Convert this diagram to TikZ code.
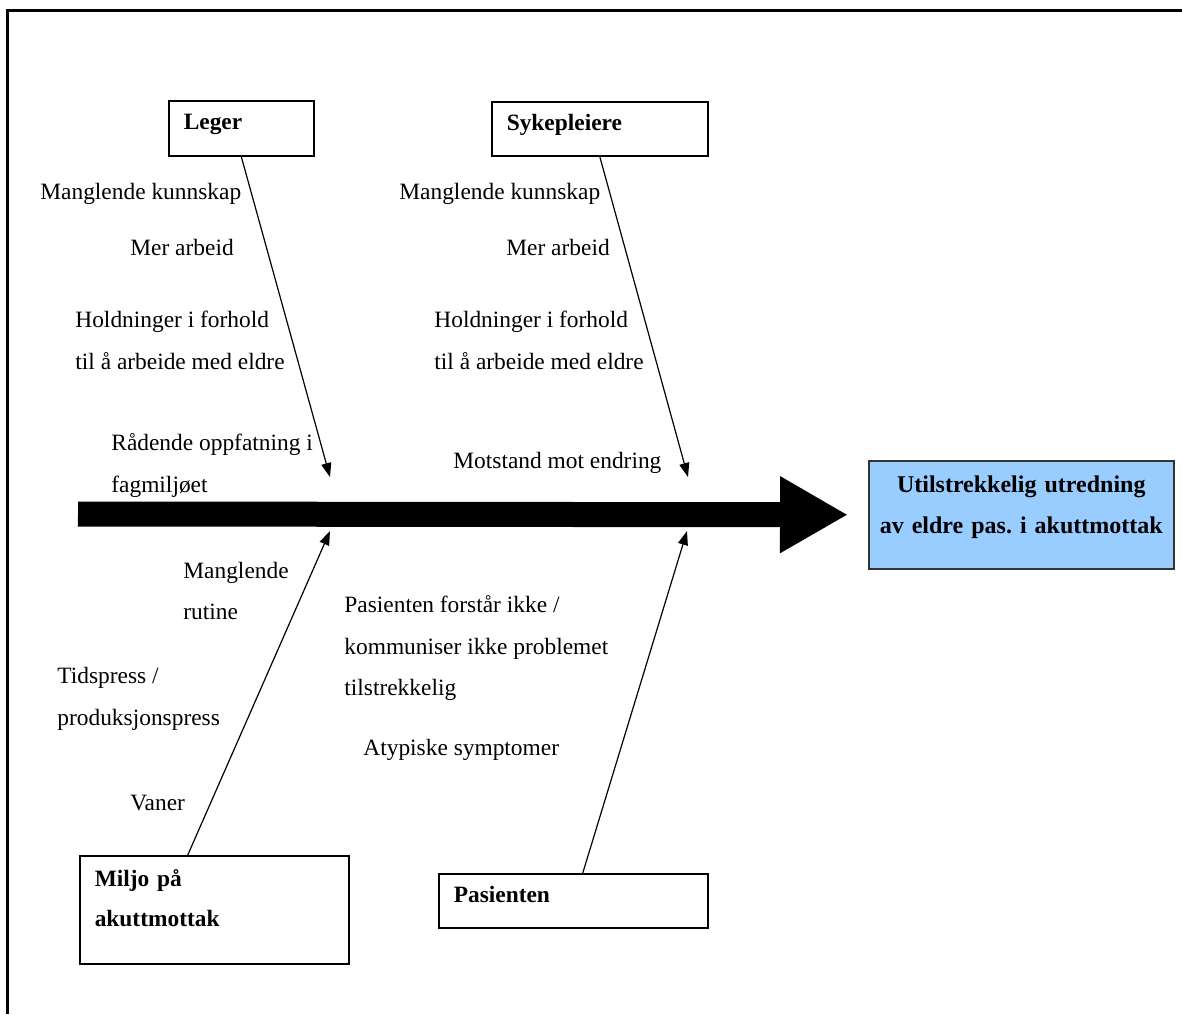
\documentclass[tikz,border=0pt]{standalone}
\usepackage{fontspec}
\setmainfont{Liberation Serif}
\usetikzlibrary{arrows.meta}
\definecolor{effektblue}{HTML}{99CCFF}

\begin{document}
\begin{tikzpicture}[x=0.5pt,y=-0.5pt,
    every node/.style={font=\fontsize{11.7}{20.75}\selectfont},
    cause/.style={anchor=west,inner sep=0pt,align=left},
    catbox/.style={draw,line width=0.75pt,anchor=north west,align=left,inner xsep=7.5pt,
        font=\fontsize{11.7}{20.25}\selectfont\bfseries},
    bone/.style={line width=0.6pt,-{Triangle[length=7pt,width=5pt]}}]
\useasboundingbox (0,0) rectangle (1182,1014);
% frame
\draw [line width=1.6pt] (7.5,1014) -- (7.5,10.5) -- (1182,10.5);

% effect and spine
\node [draw=black!80,line width=0.75pt,fill=effektblue,anchor=north west,align=center,
    minimum width=152.5pt,minimum height=54pt,inner xsep=1pt,text width=150pt,text depth=31pt,
    font=\fontsize{12}{20.5}\selectfont\bfseries\frenchspacing] (effekt) at (868,460)
    {Utilstrekkelig utredning\\av eldre pas. i akuttmottak};
\coordinate (tail) at (78,514);
\draw [line width=12.5pt,-{Triangle[length=34pt,width=36pt]}] (tail) -- ([xshift=-10pt]effekt.west);

% categories
\node [catbox,minimum width=72.5pt,minimum height=27.5pt,text width=57.5pt,text depth=6pt] (leger) at (168,100) {Leger};
\node [catbox,minimum width=108pt,minimum height=27pt,text width=93pt,text depth=6pt] (syk) at (491,101) {Sykepleiere};
\node [catbox,minimum width=134.5pt,minimum height=54pt,text width=119.5pt,text depth=32pt] (miljo) at (79,855) {Miljo på\\akuttmottak};
\node [catbox,minimum width=134.5pt,minimum height=27pt,text width=119.5pt,text depth=6pt] (pas) at (438,873) {Pasienten};

% bones
\coordinate (j1) at (330,477);
\coordinate (j2) at (688,477);
\coordinate (j3) at (330,531);
\coordinate (j4) at (687,531);
\draw [bone] (leger.south) -- (j1);
\draw [bone] (syk.south) -- (j2);
\draw [bone] ([xshift=-13.25pt]miljo.north) -- (j3);
\draw [bone] ([xshift=4.75pt]pas.north) -- (j4);

% causes: Leger
\node [cause] (lk1) at (40,194) {Manglende kunnskap};
\node [cause] (ma1) at (130,247) {Mer arbeid};
\node [cause] (ho1) at (75,340.5) {Holdninger i forhold\\til å arbeide med eldre};
\node [cause] (ra1) at (111,465.5) {Rådende oppfatning i\\fagmiljøet};
% causes: Sykepleiere
\node [cause] (lk2) at (399,194) {Manglende kunnskap};
\node [cause] (ma2) at (506,247) {Mer arbeid};
\node [cause] (ho2) at (434,340.5) {Holdninger i forhold\\til å arbeide med eldre};
\node [cause] (mo2) at (453,463) {Motstand mot endring};
% causes: Miljo
\node [cause] (ru3) at (183,591) {Manglende\\rutine};
\node [cause] (ti3) at (57,699) {Tidspress /\\produksjonspress};
\node [cause] (va3) at (130,803) {Vaner};
% causes: Pasienten
\node [cause] (fo4) at (344,648.5) {Pasienten forstår ikke /\\kommuniser ikke problemet\\tilstrekkelig};
\node [cause] (at4) at (363,750) {Atypiske symptomer};
\end{tikzpicture}
\end{document}
